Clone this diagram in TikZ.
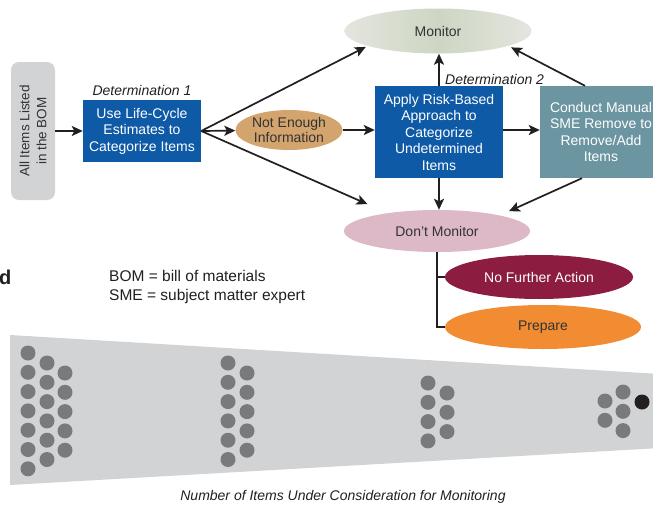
\documentclass[tikz,border=0pt]{standalone}
\usepackage{fontspec}
\setmainfont{Liberation Sans}
\usetikzlibrary{positioning}
\usetikzlibrary{arrows.meta}
\usetikzlibrary{shapes.geometric}

\definecolor{boxblue}{HTML}{0E5AA7}
\definecolor{smeteal}{HTML}{6B95A1}
\definecolor{notenoughtan}{HTML}{D3A46E}
\definecolor{monlight}{HTML}{E4E5DF}
\definecolor{monmid}{HTML}{CDD6C3}
\definecolor{dontpink}{HTML}{DDB8C7}
\definecolor{maroon}{HTML}{8C1D40}
\definecolor{prepareorange}{HTML}{F28C33}
\definecolor{funnelgray}{HTML}{D1D3D4}
\definecolor{dotgray}{HTML}{797A7D}
\definecolor{arrowdark}{HTML}{231F20}
\definecolor{textdark}{HTML}{333333}

\tikzset{
  box/.style={rectangle,text=white,inner sep=2pt,font=\fontsize{14}{16.5}\selectfont},
  oval/.style={ellipse,inner sep=0pt,text=textdark,font=\fontsize{14}{16}\selectfont},
  det/.style={inner sep=1pt,font=\itshape\fontsize{14}{16}\selectfont,text=arrowdark},
  flow/.style={->,draw=arrowdark,line width=1.7pt},
  branch/.style={draw=arrowdark,line width=1.2pt}
}

\begin{document}
\begin{tikzpicture}[x=1pt,y=-1pt,>={Stealth[length=11pt,width=10pt,inset=2.5pt]},align=center]
  \useasboundingbox (0,0) rectangle (653,506);
  \clip (0,0) rectangle (653,506);

  \node (allitems)   [rectangle,rounded corners=8pt,fill=funnelgray,rotate=90,minimum width=138pt,minimum height=44pt,
                      text=textdark,font=\fontsize{13.5}{17}\selectfont] at (33,131) {All Items Listed\\in the BOM};
  \node (usebox)     [box,fill=boxblue,minimum width=118pt,minimum height=62pt] at (142,131) {Use Life-Cycle\\Estimates to\\Categorize Items};
  \node (det1)       [det,above=3pt of usebox] {Determination 1};
  \node (notenough)  [oval,fill=notenoughtan,minimum width=107pt,minimum height=40pt,font=\fontsize{14}{13}\selectfont] at (289,130) {Not Enough\\Information};
  \node (applybox)   [box,fill=boxblue,minimum width=128pt,minimum height=92pt] at (439,132) {Apply Risk-Based\\Approach to\\Categorize\\Undetermined\\Items};
  \node (det2)       [det,above right=0pt and 5pt of applybox.north] {Determination 2};
  \node (smebox)     [box,fill=smeteal,minimum width=122pt,minimum height=92pt] at (601,132) {Conduct Manual\\SME Remove to\\Remove/Add\\Items};
  \node (monitor)    [oval,left color=monlight,right color=monlight,middle color=monmid,minimum width=187pt,minimum height=45pt] at (438,31) {Monitor};
  \node (dontmon)    [oval,fill=dontpink,minimum width=186pt,minimum height=42pt] at (437,231) {Don't Monitor};
  \node (nofurther)  [oval,fill=maroon,text=white,minimum width=188pt,minimum height=44pt] at (539,277) {No Further Action};
  \node (prepare)    [oval,fill=prepareorange,minimum width=196pt,minimum height=44pt] at (543,327) {Prepare};

  \draw[flow] (allitems) -- (usebox);
  \draw[flow,shorten >=2pt] (usebox.east) -- (monitor.192);
  \draw[flow] (usebox.east) -- (notenough);
  \draw[flow,shorten >=22pt] (usebox.east) -- (dontmon.160);
  \draw[flow] (notenough.east) -- (applybox.west |- notenough.east);
  \draw[flow] (applybox.north) -- (applybox.north |- monitor.south);
  \draw[flow] (applybox.south) -- (applybox.south |- dontmon.north);
  \draw[flow] ([yshift=2pt]applybox.east) -- ([yshift=2pt]smebox.west);
  \draw[flow,shorten >=3pt] ([xshift=-16pt]smebox.north) -- (monitor.-12);
  \draw[flow,shorten >=10pt] ([xshift=-19pt]smebox.south) -- (dontmon.14);

  \draw[branch] (dontmon.south) |- (prepare.west);
  \draw[branch] (dontmon.south |- nofurther.west) -- (nofurther.west);

  \node (panel)   [anchor=west,inner sep=0pt,font=\bfseries\fontsize{20}{22}\selectfont,text=arrowdark] at (-1,277) {d};
  \node (legend)  [anchor=west,align=left,inner sep=0pt,font=\fontsize{15.5}{19}\selectfont,text=arrowdark] at (109,287)
                  {BOM = bill of materials\\SME = subject matter expert};

  \fill[funnelgray] (10,335) -- (660,374) -- (660,448) -- (10,485) -- cycle;
  \foreach \x/\y/\n in {28/353/6,47/363/5,65/373/4,228/363/5,247/373/4,428/383/3,447/393/2,605/401/1,623/392/2}
    \foreach \k in {0,...,\n}
      \fill[dotgray] (\x,\y+19.3*\k) circle (7.5pt);
  \fill[arrowdark] (642,402) circle (7.5pt);

  \node (caption) [font=\itshape\fontsize{14}{16}\selectfont,text=arrowdark] at (343,497) {Number of Items Under Consideration for Monitoring};
\end{tikzpicture}
\end{document}
